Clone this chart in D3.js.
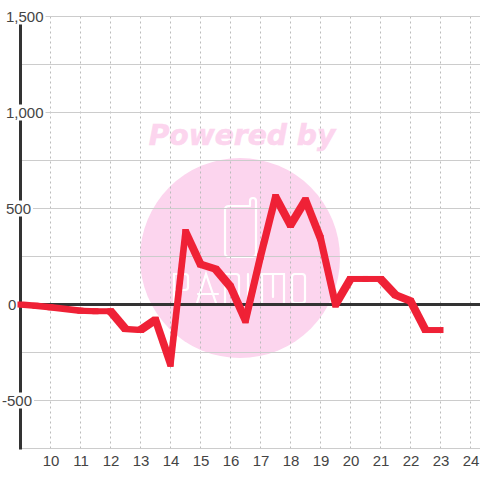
<!DOCTYPE html>
<html><head><meta charset="utf-8">
<script src="https://cdn.jsdelivr.net/npm/d3@7/dist/d3.min.js"></script>
<style>html,body{margin:0;padding:0;background:#fff}svg{display:block}</style>
</head><body><svg id="c" width="480" height="480"></svg>
<script>
const hours = [9,9.5,10,10.5,11,11.5,12,12.5,13,13.5,14,14.5,15,15.5,16,16.5,17,17.5,18,18.5,19,19.5,20,20.5,21,21.5,22,22.5,23];
const values = [0,-7,-14,-24,-32,-35,-35,-127,-133,-80,-308,378,210,185,92,-82,250,560,414,543,345,0,133,133,133,50,18,-133,-133];
const xTicks = [10,11,12,13,14,15,16,17,18,19,20,21,22,23,24];
const yGrid = [1500,1250,1000,750,500,250,-250,-500,-750];
const yLabels = [1500,1000,500,0,-500];
const labelLeft = {"1500":6,"1000":6,"500":6,"0":8,"-500":2};

const svg = d3.select("#c");
const x = d3.scaleLinear().domain([9,24]).range([20.5,470.5]);
const y = d3.scaleLinear().domain([1500,-750]).range([16.5,448.5]);

// watermark
const wm = svg.append("g");
wm.append("circle").attr("cx",240).attr("cy",258).attr("r",100).attr("fill","#fcd5ee");
wm.append("text").attr("x",242).attr("y",145).attr("text-anchor","middle")
  .attr("font-family","DejaVu Sans").attr("font-weight","bold").attr("font-style","italic")
  .attr("font-size",28.2).attr("fill","#fcd5ee").attr("stroke","#fcd5ee").attr("stroke-width",0.6).text("Powered by");
const logoPaths = [
  "M250,206H229Q225,206 225,210V253Q225,257 229,257H252Q256,257 256,253V201A3,3 0 0 0 250,201V206",
  "M174,303V274H185Q188,274 188,277V287Q188,290 185,290H174",
  "M197,303L206,274L216,303M198,294H218",
  "M225,303V274H236Q239,274 239,277V303",
  "M248,274V303",
  "M262,303V274H284V303M273,274V297",
  "M295,274H302Q305,274 305,277V300Q305,303 302,303H295Q292,303 292,300V277Q292,274 295,274"
];
wm.append("g").selectAll("path").data(logoPaths).join("path").attr("d",d=>d)
  .attr("fill","none").attr("stroke","#fff").attr("stroke-width",2.2).attr("stroke-linecap","round");

// grid
svg.append("g").selectAll("line").data(xTicks).join("line")
  .attr("x1",d=>x(d)).attr("x2",d=>x(d)).attr("y1",y(1500)).attr("y2",y(-750))
  .attr("stroke","#bbb").attr("stroke-dasharray","2,3");
svg.append("g").selectAll("line").data(yGrid).join("line")
  .attr("x1",x(9)).attr("x2",480).attr("y1",d=>y(d)).attr("y2",d=>y(d))
  .attr("stroke","#ccc");

// axes
svg.append("line").attr("x1",x(9)).attr("x2",480).attr("y1",y(0)).attr("y2",y(0))
  .attr("stroke","#333").attr("stroke-width",3);
svg.append("line").attr("x1",x(9)).attr("x2",x(9)).attr("y1",y(1500)).attr("y2",y(-750)+1)
  .attr("stroke","#333").attr("stroke-width",3);

// y labels with white backing
const yl = svg.append("g").selectAll("g").data(yLabels).join("g")
  .attr("transform",d=>`translate(${labelLeft[d]},${y(d)})`);
const fmt = d=>d3.format(",")(d).replace("\u2212","-");
yl.append("text").attr("y",5.5).attr("font-family","Liberation Sans").attr("font-size",15)
  .attr("fill","#444").text(fmt);
yl.insert("rect","text").each(function(){
  const b=this.parentNode.querySelector("text").getBBox();
  d3.select(this).attr("x",b.x).attr("y",-8).attr("width",b.width+2).attr("height",16).attr("fill","#fff");
});

// x labels
svg.append("g").selectAll("text").data(xTicks).join("text")
  .attr("x",d=>x(d)+0.5).attr("y",466).attr("text-anchor","middle")
  .attr("font-family","Liberation Sans").attr("font-size",15).attr("fill","#444").text(d=>d);

// series: drawn with a square pen, as the hull of pen squares at each segment's two ends
const pen = 3;
const corners = ([a,b]) => [[a-pen,b-pen],[a+pen,b-pen],[a+pen,b+pen],[a-pen,b+pen]];
const pts = values.map((v,i)=>[x(hours[i]),y(v)]);
const segs = d3.pairs(pts).map(([p,q])=>d3.polygonHull([...corners(p),...corners(q)]));
svg.append("g").selectAll("path").data(segs).join("path")
  .attr("d",d=>"M"+d.join("L")+"Z").attr("fill","#ef2136");
</script></body></html>
